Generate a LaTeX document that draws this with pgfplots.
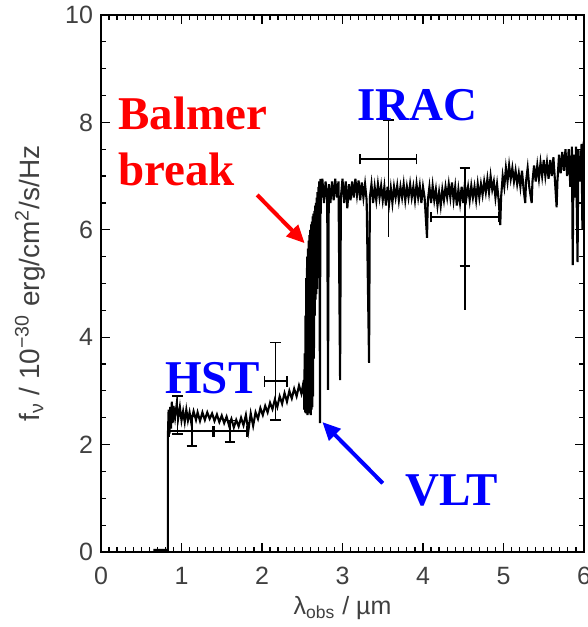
\documentclass[border=0pt]{standalone}
\usepackage{fontspec}
\setmainfont{Liberation Sans}
\newfontfamily\tnr{Liberation Serif}
\usepackage{pgfplots}
\pgfplotsset{compat=1.18}
\usetikzlibrary{arrows.meta}
\begin{document}
\begin{tikzpicture}
\begin{axis}[
  scale only axis, width=241.5pt, height=268.5pt,
  xmin=0, xmax=6, ymin=0, ymax=10,
  xtick={0,...,6}, ytick={0,2,...,10},
  minor x tick num=9, minor y tick num=3,
  major tick length=4.5pt, minor tick length=2.5pt,
  tick align=inside,
  tick style={black, line width=0.6pt},
  axis line style={line width=0.8pt},
  /pgf/number format/assume math mode=true,
  tick label style={font=\fontsize{12.5}{14}\selectfont, text=black!75},
  xticklabel style={yshift=-4pt},
  yticklabel style={xshift=-0.5pt},
  xlabel={λ\textsubscript{obs} / µm},
  ylabel={f\textsubscript{ν} / 10\textsuperscript{−30} erg/cm\textsuperscript{2}/s/Hz},
  xlabel style={at={(axis description cs:0.5,-0.104)}, anchor=center, font=\fontsize{12.5}{14}\selectfont, text=black!75},
  ylabel style={at={(axis description cs:-0.147,0.5)}, anchor=center, rotate=0, font=\fontsize{14}{16}\selectfont, text=black!75},
  clip=true,
]
% spectrum
\addplot[black, line width=1.05pt] coordinates {
(0.65,0.04) (0.83,0.04) (0.83,2.1) (0.84,2.65) (0.85,2.2) (0.86,2.7) (0.87,2.3) (0.88,2.8) (0.89,2.4)
(0.9,2.72) (0.92,2.5) (0.94,2.75) (0.96,2.5) (0.98,2.7) (1.0,2.45) (1.02,2.62) (1.04,2.42) (1.06,2.65)
(1.08,2.45) (1.1,2.6) (1.12,2.42) (1.15,2.62) (1.18,2.46) (1.2,2.6) (1.23,2.44) (1.26,2.6) (1.29,2.46)
(1.32,2.6) (1.35,2.48) (1.38,2.58) (1.41,2.44) (1.44,2.56) (1.47,2.42) (1.5,2.54) (1.53,2.4) (1.56,2.52)
(1.59,2.36) (1.62,2.48) (1.65,2.32) (1.68,2.46) (1.71,2.34) (1.74,2.5) (1.77,2.36) (1.8,2.55) (1.83,2.25)
(1.86,2.58) (1.89,2.35) (1.92,2.6) (1.95,2.48) (1.98,2.68) (2.01,2.55) (2.04,2.72) (2.07,2.6) (2.1,2.78)
(2.13,2.66) (2.16,2.84) (2.19,2.7) (2.22,2.9) (2.25,2.76) (2.28,2.96) (2.31,2.8) (2.34,3.0) (2.37,2.86)
(2.4,3.04) (2.43,2.9) (2.46,3.1) (2.49,2.95) (2.52,3.2)
(2.525,2.65) (2.53,3.7) (2.535,2.6) (2.54,4.4) (2.545,2.58) (2.55,5.1) (2.555,2.6) (2.56,5.5) (2.565,2.55)
(2.57,5.65) (2.575,2.6) (2.58,5.8) (2.585,2.58) (2.59,5.9) (2.595,2.6) (2.6,6.0) (2.605,2.55) (2.61,6.1)
(2.615,2.65) (2.62,6.15) (2.625,2.7) (2.63,6.25) (2.635,2.9) (2.64,6.3) (2.645,3.6) (2.65,6.35) (2.655,4.4)
(2.66,6.45) (2.665,4.7) (2.67,6.5) (2.675,4.8) (2.68,6.6) (2.685,4.9) (2.69,6.7) (2.695,5.1) (2.7,6.8)
(2.705,5.4) (2.71,6.9) (2.715,5.8) (2.72,2.4) (2.725,6.95) (2.73,6.3) (2.735,6.95) (2.74,6.6)
(2.75,6.95) (2.77,6.5) (2.79,6.9) (2.81,6.55) (2.82,3.02) (2.83,6.85) (2.85,6.5) (2.87,6.9) (2.89,6.55)
(2.91,6.95) (2.93,6.6) (2.95,6.9) (2.97,3.2) (2.98,6.6) (3.0,6.95) (3.02,6.5) (3.04,6.9) (3.06,6.4)
(3.08,6.85) (3.1,6.55) (3.12,6.9) (3.14,6.6) (3.16,6.95) (3.18,6.65) (3.2,6.92) (3.22,6.55) (3.24,6.88)
(3.26,6.6) (3.28,6.85) (3.3,6.55) (3.33,3.52) (3.34,6.6) (3.36,6.85) (3.38,6.5) (3.4,6.8) (3.42,6.55)
(3.44,6.85) (3.46,6.6) (3.48,6.82) (3.5,6.55) (3.52,6.8) (3.54,6.45) (3.56,6.8) (3.58,6.5) (3.6,6.78)
(3.62,6.5) (3.64,6.8) (3.66,6.6) (3.68,6.82) (3.7,6.55) (3.72,6.8) (3.74,6.6) (3.76,6.85) (3.78,6.55)
(3.8,6.8) (3.82,6.6) (3.84,6.85) (3.86,6.6) (3.88,6.8) (3.9,6.55) (3.92,6.85) (3.94,6.6) (3.96,6.82)
(3.98,6.5) (4.0,6.8) (4.02,6.6) (4.05,5.85) (4.06,6.55) (4.08,6.8) (4.1,6.5) (4.12,6.82) (4.14,6.55)
(4.16,6.75) (4.18,6.45) (4.2,6.7) (4.22,6.45) (4.24,6.75) (4.26,6.55) (4.28,6.8) (4.3,6.6) (4.32,6.85)
(4.34,6.6) (4.36,6.88) (4.38,6.55) (4.4,6.8) (4.42,6.45) (4.44,6.75) (4.46,6.5) (4.48,6.8) (4.5,6.5)
(4.52,6.85) (4.54,6.6) (4.56,6.8) (4.58,6.55) (4.6,6.82) (4.62,6.6) (4.64,6.8) (4.66,6.55) (4.68,6.85)
(4.7,6.6) (4.72,6.85) (4.74,6.65) (4.76,6.9) (4.78,6.7) (4.8,6.95) (4.82,6.7) (4.84,7.0) (4.86,6.75)
(4.88,6.9) (4.9,6.6) (4.92,6.85) (4.94,6.55) (4.96,6.09) (4.97,6.6) (4.99,7.0) (5.01,6.8) (5.03,7.15)
(5.05,6.9) (5.07,7.2) (5.09,6.95) (5.11,7.15) (5.13,6.9) (5.15,7.1) (5.17,6.85) (5.19,7.05) (5.21,6.8)
(5.23,7.1) (5.25,6.75) (5.27,6.5) (5.28,6.9) (5.3,7.15) (5.32,6.8) (5.35,6.5) (5.36,6.9) (5.38,7.2)
(5.4,6.9) (5.42,7.2) (5.44,6.95) (5.46,7.25) (5.48,7.0) (5.5,7.3) (5.52,7.0) (5.54,7.25) (5.56,6.95)
(5.58,7.3) (5.6,7.0) (5.62,7.35) (5.64,6.9) (5.66,6.42) (5.67,6.9) (5.69,7.4) (5.71,7.05) (5.73,7.45)
(5.75,7.1) (5.77,7.5) (5.79,7.0) (5.81,7.5) (5.83,6.8) (5.85,7.55) (5.86,5.34) (5.87,7.4) (5.89,6.6)
(5.9,7.55) (5.92,5.4) (5.93,7.5) (5.95,6.9) (5.97,7.6) (5.98,6.0) (5.99,7.55) (6.0,7.65)
};
% photometry error bars (bars and caps as segments)
\addplot[black, line width=0.8pt, unbounded coords=jump] coordinates {
(0.95,2.2) (0.95,2.9) (nan,nan) (0.885,2.9) (1.015,2.9) (nan,nan) (0.885,2.2) (1.015,2.2) (nan,nan)
(1.13,1.97) (1.13,2.53) (nan,nan) (1.065,1.97) (1.195,1.97) (nan,nan) (1.065,2.53) (1.195,2.53) (nan,nan)
(0.85,2.25) (1.41,2.25) (nan,nan) (0.85,2.15) (0.85,2.35) (nan,nan) (1.41,2.15) (1.41,2.35) (nan,nan)
(1.6,2.05) (1.6,2.45) (nan,nan) (1.535,2.05) (1.665,2.05) (nan,nan) (1.535,2.45) (1.665,2.45) (nan,nan)
(1.39,2.25) (1.81,2.25) (nan,nan) (1.39,2.15) (1.39,2.35) (nan,nan) (1.81,2.15) (1.81,2.35) (nan,nan)
(2.17,2.46) (2.17,3.9) (nan,nan) (2.105,2.46) (2.235,2.46) (nan,nan) (2.105,3.9) (2.235,3.9) (nan,nan)
(2.03,3.18) (2.31,3.18) (nan,nan) (2.03,3.08) (2.03,3.28) (nan,nan) (2.31,3.08) (2.31,3.28) (nan,nan)
(3.57,5.87) (3.57,8.04) (nan,nan) (3.505,8.04) (3.635,8.04) (nan,nan)
(3.22,7.32) (3.92,7.32) (nan,nan) (3.22,7.22) (3.22,7.42) (nan,nan) (3.92,7.22) (3.92,7.42) (nan,nan)
(4.52,4.51) (4.52,7.15) (nan,nan) (4.455,7.15) (4.585,7.15) (nan,nan) (4.455,5.33) (4.585,5.33) (nan,nan)
(4.10,6.24) (4.94,6.24) (nan,nan) (4.10,6.14) (4.10,6.34) (nan,nan) (4.94,6.14) (4.94,6.34)
};
% annotations
\node[anchor=base west, text=red, font=\tnr\bfseries\fontsize{23.5}{27}\selectfont, inner sep=0pt] at (axis cs:0.21,7.86) {Balmer};
\node[anchor=base west, text=red, font=\tnr\bfseries\fontsize{23.5}{27}\selectfont, inner sep=0pt] at (axis cs:0.21,6.83) {break};
\node[anchor=base west, text=blue, font=\tnr\bfseries\fontsize{23.5}{27}\selectfont, inner sep=0pt] at (axis cs:3.18,8.04) {IRAC};
\node[anchor=base west, text=blue, font=\tnr\bfseries\fontsize{23.5}{27}\selectfont, inner sep=0pt] at (axis cs:0.795,2.96) {HST};
\node[anchor=base west, text=blue, font=\tnr\bfseries\fontsize{23.5}{27}\selectfont, inner sep=0pt] at (axis cs:3.78,0.875) {VLT};
\draw[red, line width=2pt, -{Triangle[length=9pt,width=8pt]}] (axis cs:1.94,6.65) -- (axis cs:2.53,5.75);
\draw[blue, line width=2pt, -{Triangle[length=9pt,width=8pt]}] (axis cs:3.50,1.28) -- (axis cs:2.75,2.42);
\coordinate (ll) at (rel axis cs:0,0);
\coordinate (ur) at (rel axis cs:1,1);
\end{axis}
\pgfresetboundingbox
\path[use as bounding box] ([shift={(-50.5pt,-37.5pt)}]ll) rectangle ([shift={(2pt,7.5pt)}]ur);
\end{tikzpicture}
\end{document}
